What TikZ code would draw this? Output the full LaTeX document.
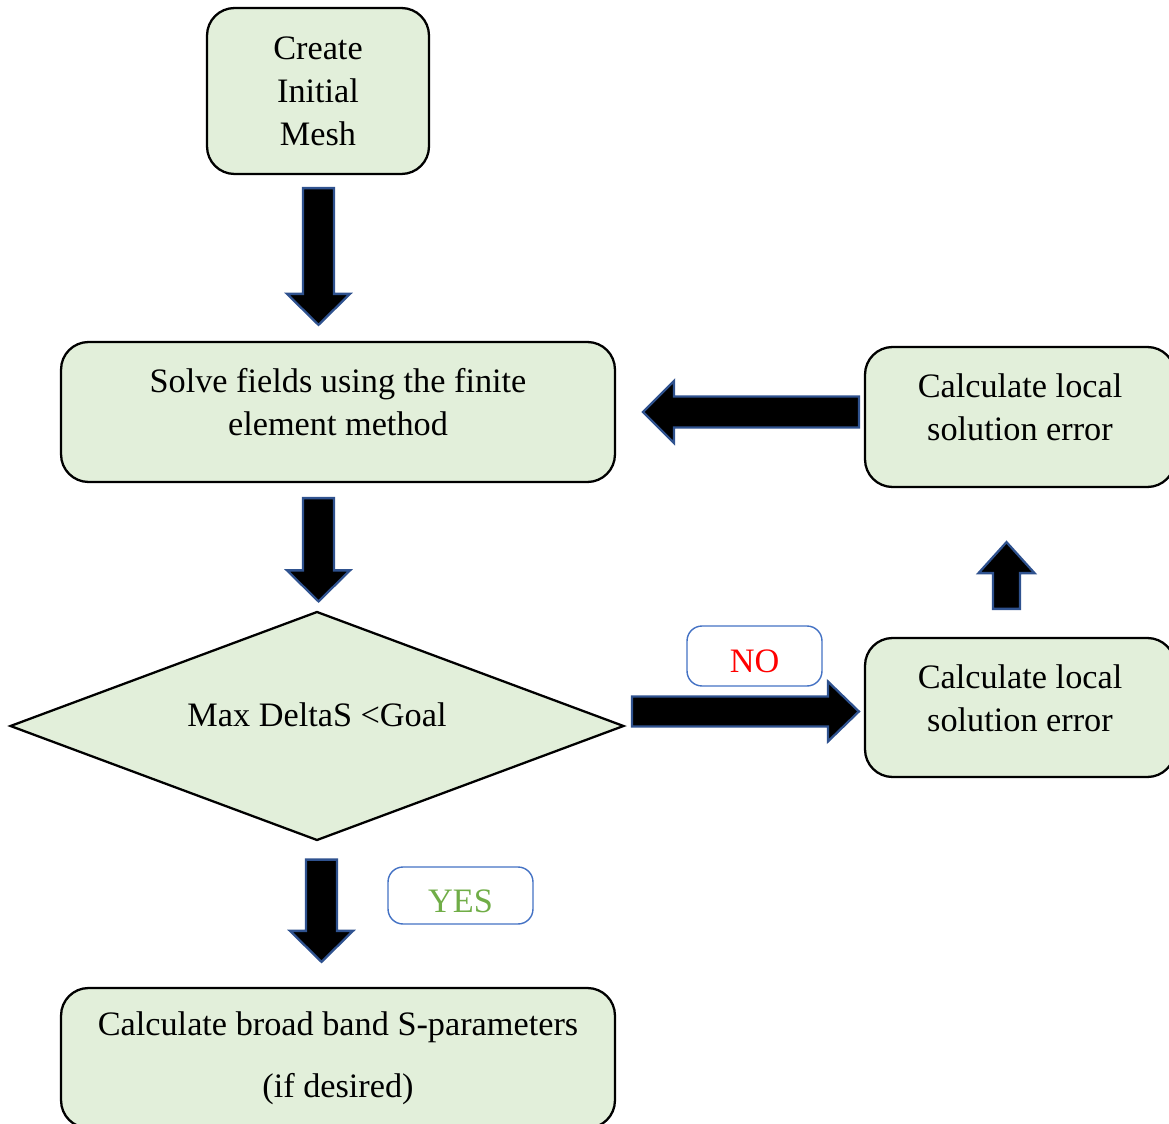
\documentclass[tikz,border=0pt]{standalone}
\usepackage{fontspec}
\setmainfont{Liberation Serif}
\usetikzlibrary{shapes.geometric,calc}

\definecolor{boxgreen}{HTML}{E2EFDA}
\definecolor{arrowblue}{HTML}{2F528F}
\definecolor{labelblue}{HTML}{4472C4}
\definecolor{yesgreen}{HTML}{70AD47}

% block arrow: start, tip, half shaft width, half head width
\newcommand{\fatarrow}[4]{%
  \path (#2) coordinate (tip) ($(#2)!0.62cm!(#1)$) coordinate (hb);
  \filldraw[fatarrow] ($(#1)!#3!90:(tip)$) -- ($(hb)!#3!90:(tip)$) -- ($(hb)!#4!90:(tip)$) -- (tip)
    -- ($(hb)!#4!-90:(tip)$) -- ($(hb)!#3!-90:(tip)$) -- ($(#1)!#3!-90:(tip)$) -- cycle;
}

\begin{document}
\begin{tikzpicture}[x=0.02cm,y=-0.02cm,
  every node/.style={font=\fontsize{19.5}{24.4}\selectfont},
  box/.style={draw, line width=1.3pt, rounded corners=0.55cm, fill=boxgreen, align=center, inner sep=0pt},
  high/.style={text depth=11pt},
  decision/.style={diamond, aspect=2.68, draw, line width=1.3pt, fill=boxgreen, inner sep=0pt,
    minimum width=12.28cm, minimum height=4.58cm, text depth=13pt},
  answer/.style={draw=labelblue, line width=0.8pt, rounded corners=0.3cm, fill=white, inner sep=0pt,
    text height=19pt},
  fatarrow/.style={fill=black, draw=arrowblue, line width=1.3pt, line join=miter}]
\useasboundingbox (0,0) rectangle (1169,1124);

% steps
\node[box, minimum width=4.44cm, minimum height=3.32cm] (mesh) at (318,91) {Create\\Initial\\Mesh};
\node[box, high, minimum width=11.08cm, minimum height=2.8cm] (solve) at (338,412) {Solve fields using the finite\\element method};
\node[box, high, minimum width=6.2cm, minimum height=2.8cm] (err1) at (1020,417) {Calculate local\\solution error};
\node[decision] (dec) at (317,726) {Max DeltaS <Goal};
\node[box, high, minimum width=6.2cm, minimum height=2.78cm] (err2) at (1020,707.5) {Calculate local\\solution error};
\node[box, minimum width=11.08cm, minimum height=2.8cm] (sparam) at (338,1058) {Calculate broad band S-parameters\\[11pt](if desired)};

% answers
\node[answer, text=red, minimum width=2.7cm, minimum height=1.2cm] (no) at (754.5,656) {NO};
\node[answer, text=yesgreen, minimum width=2.9cm, minimum height=1.14cm] (yes) at (460.5,895.5) {YES};

% arrows
\coordinate (a1s) at ($(mesh.south)+(0.5,13)$);
\coordinate (a1e) at ($(mesh.south |- solve.north)+(0.5,-16)$);
\fatarrow{a1s}{a1e}{0.31cm}{0.63cm}
\coordinate (a2s) at ($(mesh.south |- solve.south)+(0.5,15)$);
\coordinate (a2e) at ($(mesh.south |- dec.north)+(0.5,-9)$);
\fatarrow{a2s}{a2e}{0.31cm}{0.63cm}
\coordinate (a3s) at ($(dec.south)+(4.5,18)$);
\coordinate (a3e) at ($(dec.south |- sparam.north)+(4.5,-25)$);
\fatarrow{a3s}{a3e}{0.31cm}{0.63cm}
\coordinate (a4s) at ($(dec.east |- err2.west)+(7,4)$);
\coordinate (a4e) at ($(err2.west)+(-5,4)$);
\fatarrow{a4s}{a4e}{0.3cm}{0.6cm}
\coordinate (a5s) at ($(err2.north)+(-13.5,-28)$);
\coordinate (a5e) at ($(err1.south)+(-13.5,54)$);
\fatarrow{a5s}{a5e}{0.27cm}{0.56cm}
\coordinate (a6s) at ($(err1.west |- solve.east)+(-5,0)$);
\coordinate (a6e) at ($(solve.east)+(27,0)$);
\fatarrow{a6s}{a6e}{0.31cm}{0.62cm}
\end{tikzpicture}
\end{document}
